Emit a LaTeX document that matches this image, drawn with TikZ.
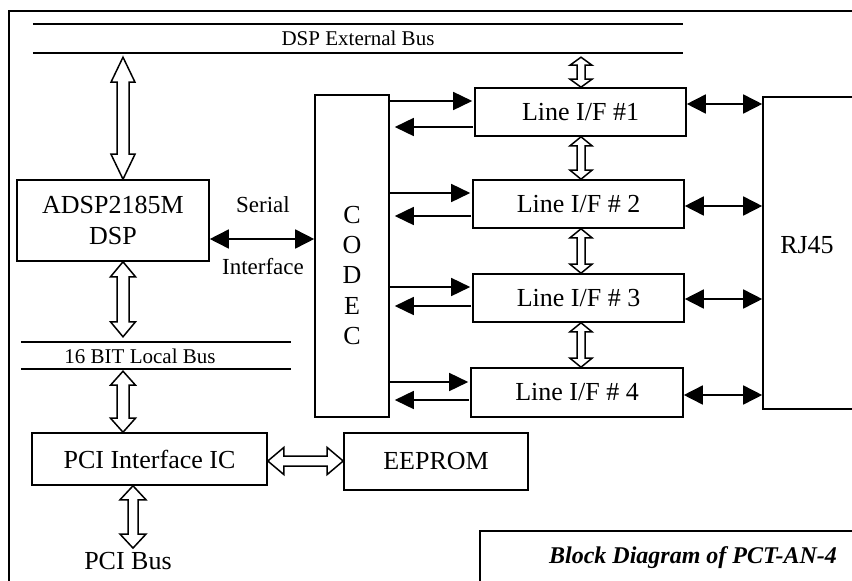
\documentclass[tikz,border=0pt]{standalone}
\usepackage{fontspec}
\setmainfont{Liberation Serif}
\usetikzlibrary{arrows.meta,calc}

\newcommand\blockfont{\fontsize{26}{30}\selectfont}
\newcommand\codecfont{\fontsize{26}{30.3}\selectfont}
\newcommand\busfont{\fontsize{21}{24}\selectfont}
\newcommand\serfont{\fontsize{23}{26}\selectfont}

% Outlined double-headed bus arrow between two tip coordinates
% #1,#2 tips, #3 half shaft width, #4 half head width, #5 head length
\newcommand\hollowarr[5]{%
  \draw[hollow] (#1)
    -- ($(#1)!#5!(#2)!#4!90:(#2)$)
    -- ($(#1)!#5!(#2)!#3!90:(#2)$)
    -- ($(#2)!#5!(#1)!#3!-90:(#1)$)
    -- ($(#2)!#5!(#1)!#4!-90:(#1)$)
    -- (#2)
    -- ($(#2)!#5!(#1)!#4!90:(#1)$)
    -- ($(#2)!#5!(#1)!#3!90:(#1)$)
    -- ($(#1)!#5!(#2)!#3!-90:(#2)$)
    -- ($(#1)!#5!(#2)!#4!-90:(#2)$)
    -- cycle;}

\tikzset{
  box/.style={draw, line width=1.6pt, inner sep=0pt, font=\blockfont, align=center},
  busnode/.style={inner sep=0pt, font=\busfont},
  busline/.style={line width=1.6pt},
  hollow/.style={draw, fill=white, line width=1.5pt, line join=miter},
  sig/.style={line width=1.6pt, -{Triangle[length=19pt,width=18pt]}},
  sigboth/.style={line width=1.6pt, {Triangle[length=19pt,width=19pt]}-{Triangle[length=19pt,width=19pt]}},
  lbl/.style={inner sep=0pt},
}

\begin{document}
\begin{tikzpicture}[x=1pt,y=-1pt]
\useasboundingbox (0,0) rectangle (852,581);
\clip (0,0) rectangle (852,581);
\fill[white] (0,0) rectangle (852,581);

% outer frame and caption box
\draw[line width=1.4pt] (9,11) rectangle (900,650);
\draw[line width=1.6pt] (480,531) rectangle (900,650);
\node[lbl, font=\fontsize{24}{28}\selectfont\bfseries\itshape] (caption) at (693,558) {Block Diagram of PCT-AN-4};

% buses
\node[busnode, minimum width=650pt, minimum height=29pt] (extbus) at (358,38.5) {DSP External Bus};
\draw[busline] (extbus.north west) -- (extbus.north east) (extbus.south west) -- (extbus.south east);
\node[busnode, minimum width=270pt, minimum height=27pt,
      label={[busnode, xshift=-16pt, yshift=-1pt]center:16 BIT Local Bus}] (locbus) at (156,355.5) {};
\draw[busline] (locbus.north west) -- (locbus.north east) (locbus.south west) -- (locbus.south east);

% blocks
\node[box, minimum width=192pt, minimum height=81pt] (dsp) at (113,220.5) {ADSP2185M\\[1pt]DSP};
\node[box, minimum width=74pt, minimum height=322pt,
      label={[lbl, font=\codecfont, align=center, yshift=-19.5pt]center:C\\O\\D\\E\\C}] (codec) at (352,256) {};
\node[box, minimum width=211pt, minimum height=48pt] (lif1) at (580.5,112) {Line I/F \#1};
\node[box, minimum width=211pt, minimum height=48pt] (lif2) at (578.5,204) {Line I/F \# 2};
\node[box, minimum width=211pt, minimum height=48pt] (lif3) at (578.5,298) {Line I/F \# 3};
\node[box, minimum width=212pt, minimum height=49pt] (lif4) at (577,392.5) {Line I/F \# 4};
\node[box, minimum width=137pt, minimum height=312pt,
      label={[lbl, font=\blockfont, xshift=-24.5pt, yshift=8pt]center:RJ45}] (rj45) at (831.5,253) {};
\node[box, minimum width=235pt, minimum height=52pt] (pci) at (149.5,459) {PCI Interface IC};
\node[box, minimum width=184pt, minimum height=57pt] (eeprom) at (436,461.5) {EEPROM};

\node[lbl, font=\serfont] (serial) at (263,205) {Serial};
\node[lbl, font=\serfont] (iface) at (263,267) {Interface};
\node[lbl, font=\blockfont] (pcibus) at (128,561) {PCI Bus};

% guide coordinates for the bus arrows
\coordinate (ax) at (123,0);
\coordinate (bx) at (133,0);
\coordinate (sx) at (581,0);
\coordinate (ey) at (0,461);

\coordinate (h1a) at ($(extbus.south -| ax)+(0,4)$);
\coordinate (h1b) at (dsp.north -| ax);
\coordinate (h2a) at (dsp.south -| ax);
\coordinate (h2b) at ($(locbus.north -| ax)+(0,-5)$);
\coordinate (h3a) at ($(locbus.south -| ax)+(0,2)$);
\coordinate (h3b) at (pci.north -| ax);
\coordinate (h4a) at (pci.south -| bx);
\coordinate (h4b) at ($(pcibus.north -| bx)+(0,-4)$);
\coordinate (h5a) at (pci.east |- ey);
\coordinate (h5b) at (eeprom.west |- ey);

\hollowarr{h1a}{h1b}{6pt}{12pt}{25pt}
\hollowarr{h2a}{h2b}{6pt}{12.5pt}{15pt}
\hollowarr{h3a}{h3b}{6pt}{12.5pt}{14pt}
\hollowarr{h4a}{h4b}{5pt}{13pt}{14pt}
\hollowarr{h5a}{h5b}{5pt}{13.5pt}{16pt}

\coordinate (s1a) at ($(extbus.south -| sx)+(0,4)$);
\coordinate (s1b) at (lif1.north -| sx);
\coordinate (s2a) at (lif1.south -| sx);
\coordinate (s2b) at (lif2.north -| sx);
\coordinate (s3a) at (lif2.south -| sx);
\coordinate (s3b) at (lif3.north -| sx);
\coordinate (s4a) at (lif3.south -| sx);
\coordinate (s4b) at (lif4.north -| sx);

\hollowarr{s1a}{s1b}{4pt}{11pt}{8pt}
\hollowarr{s2a}{s2b}{4pt}{11pt}{9pt}
\hollowarr{s3a}{s3b}{4pt}{11pt}{9pt}
\hollowarr{s4a}{s4b}{4pt}{11pt}{9pt}

% serial link DSP <-> CODEC
\coordinate (ser) at ([yshift=-18.5pt]dsp.east);
\draw[sigboth] (ser) -- (codec.west |- ser);

% CODEC <-> line interfaces
\coordinate (r1) at ([yshift=11pt]lif1.west);
\coordinate (l1) at ([yshift=-15pt]lif1.west);
\coordinate (r2) at ([yshift=11pt]lif2.west);
\coordinate (l2) at ([yshift=-12pt]lif2.west);
\coordinate (r3) at ([yshift=11pt]lif3.west);
\coordinate (l3) at ([yshift=-8pt]lif3.west);
\coordinate (r4) at ([yshift=10.5pt]lif4.west);
\coordinate (l4) at ([yshift=-7.5pt]lif4.west);
\foreach \i in {1,2,3,4}{
  \draw[sig, shorten >=2pt] (codec.east |- r\i) -- (r\i);
  \draw[sig, shorten >=5pt] ([xshift=-1pt]l\i) -- (codec.east |- l\i);
}

% line interfaces <-> RJ45
\coordinate (j1) at ([yshift=8pt]lif1.east);
\coordinate (j2) at ([yshift=-2pt]lif2.east);
\coordinate (j3) at ([yshift=-1pt]lif3.east);
\coordinate (j4) at ([yshift=-2.5pt]lif4.east);
\foreach \i in {1,2,3,4}{
  \draw[sigboth] (j\i) -- (rj45.west |- j\i);
}
\end{tikzpicture}
\end{document}
